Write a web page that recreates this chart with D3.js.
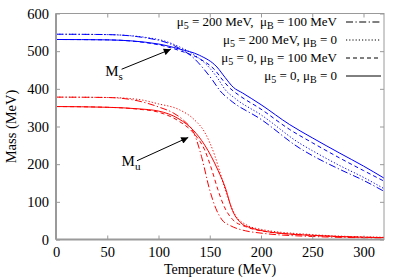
<html>
<head>
<script src="https://cdnjs.cloudflare.com/ajax/libs/d3/7.8.5/d3.min.js"></script>
<style>
  body { margin: 0; background: #fff; }
</style>
</head>
<body>
<script>
// temperature grid (MeV) and masses (MeV)
var xTicks = [0, 50, 100, 150, 200, 250, 300];
var yTicks = [0, 100, 200, 300, 400, 500, 600];

// strange quark mass
var msT_a = [0, 50, 100, 120, 140, 157, 165, 173, 182, 200, 228, 250, 277, 300, 320];
var ms_a  = [531, 530, 519, 506, 489, 458, 430, 404, 389, 358, 305, 270, 229, 195, 163]; // mu5=0, muB=0
var msT_b = [0, 50, 100, 120, 140, 155, 163, 170, 178, 200, 228, 250, 277, 300, 320];
var ms_b  = [531, 530, 517, 502, 480, 450, 422, 401, 384, 346, 292, 257, 216, 183, 155]; // mu5=0, muB=100
var msT_c = [0, 50, 100, 120, 135, 150, 158, 165, 175, 200, 238, 250, 277, 300, 320];
var ms_c  = [545, 544, 531, 512, 490, 455, 427, 398, 374, 331, 255, 236, 196, 165, 135]; // mu5=200, muB=0
var msT_d = [0, 50, 100, 120, 135, 145, 153, 160, 170, 200, 238, 250, 277, 300, 320];
var ms_d  = [545, 544, 529, 508, 480, 450, 422, 395, 370, 319, 242, 223, 186, 157, 128]; // mu5=200, muB=100

// light quark mass
var muT_a = [0, 50, 80, 100, 120, 134, 145, 158, 166, 171, 180, 190, 200, 225, 250, 300, 320];
var mu_a  = [353, 351, 347, 341, 320, 290, 251, 184, 131, 85, 45, 31, 24, 15, 11, 6, 5];
var muT_b = [0, 50, 80, 100, 120, 135, 145, 152, 158, 164, 172, 185, 200, 250, 320];
var mu_b  = [353, 351, 346, 338, 314, 280, 238, 185, 132, 88, 54, 34, 23, 11, 5];
var muT_c = [0, 50, 80, 100, 120, 135, 145, 155, 162, 168, 175, 185, 200, 250, 320];
var mu_c  = [378, 377, 372, 360, 345, 318, 285, 222, 160, 108, 64, 40, 27, 13, 6];
var muT_d = [0, 50, 80, 100, 115, 125, 135, 142, 150, 156, 162, 170, 185, 200, 250, 320];
var mu_d  = [378, 377, 368, 352, 335, 315, 280, 220, 131, 82, 52, 37, 23, 17, 8, 4];

var W = 400, H = 280;
var serif = "'Liberation Serif', 'Times New Roman', Times, serif";

var svg = d3.select("body").append("svg")
    .attr("width", W).attr("height", H)
    .attr("font-family", serif);

var x = d3.scaleLinear().domain([0, 320]).range([56, 384]);
var y = d3.scaleLinear().domain([0, 600]).range([239.5, 13.5]);

var styles = {
    a: null,
    b: "4,3",
    c: "1.2,2",
    d: "7,2.5,1.2,2.5"
};

function zip(ts, ms) {
    return ts.map(function(t, i) { return [t, ms[i]]; });
}

var line = d3.line()
    .x(function(d) { return x(d[0]); })
    .y(function(d) { return y(d[1]); })
    .curve(d3.curveMonotoneX);

var series = [
    {pts: zip(msT_a, ms_a), c: "#0000ff", s: "a"},
    {pts: zip(msT_b, ms_b), c: "#0000ff", s: "b"},
    {pts: zip(msT_c, ms_c), c: "#0000ff", s: "c"},
    {pts: zip(msT_d, ms_d), c: "#0000ff", s: "d"},
    {pts: zip(muT_a, mu_a), c: "#ff0000", s: "a"},
    {pts: zip(muT_b, mu_b), c: "#ff0000", s: "b"},
    {pts: zip(muT_c, mu_c), c: "#ff0000", s: "c"},
    {pts: zip(muT_d, mu_d), c: "#ff0000", s: "d"}
];

svg.selectAll("path.curve")
    .data(series)
    .enter()
    .append("path")
    .attr("class", "curve")
    .attr("d", function(d) { return line(d.pts); })
    .attr("fill", "none")
    .attr("stroke", function(d) { return d.c; })
    .attr("stroke-width", 1)
    .attr("stroke-dasharray", function(d) { return styles[d.s]; });

// frame
svg.append("rect")
    .attr("x", x(0)).attr("y", y(600))
    .attr("width", x(320) - x(0)).attr("height", y(0) - y(600))
    .attr("fill", "none").attr("stroke", "#9a9a9a").attr("stroke-width", 1);
svg.append("line").attr("x1", x(0)).attr("x2", x(0)).attr("y1", y(0)).attr("y2", y(600))
    .attr("stroke", "#9a9a9a").attr("stroke-width", 2);
svg.append("line").attr("x1", x(0)).attr("x2", x(320)).attr("y1", y(0)).attr("y2", y(0))
    .attr("stroke", "#9a9a9a").attr("stroke-width", 2);

// ticks, inward on all sides
var xAxis = d3.axisBottom(x).tickValues(xTicks).tickSizeInner(-4).tickSizeOuter(0).tickPadding(7);
var yAxis = d3.axisLeft(y).tickValues(yTicks).tickSizeInner(-4).tickSizeOuter(0).tickPadding(7);

var gx = svg.append("g").attr("transform", "translate(0," + y(0) + ")").call(xAxis);
var gy = svg.append("g").attr("transform", "translate(" + x(0) + ",0)").call(yAxis);
var gx2 = svg.append("g").attr("transform", "translate(0," + y(600) + ")")
    .call(d3.axisTop(x).tickValues(xTicks).tickSizeInner(-4).tickSizeOuter(0).tickFormat(""));
var gy2 = svg.append("g").attr("transform", "translate(" + x(320) + ",0)")
    .call(d3.axisRight(y).tickValues(yTicks).tickSizeInner(-4).tickSizeOuter(0).tickFormat(""));

[gx, gy, gx2, gy2].forEach(function(g) {
    g.attr("font-family", serif).attr("font-size", 14.5);
    g.select(".domain").remove();
    g.selectAll("line").attr("stroke", "#9a9a9a");
    g.selectAll("text").attr("fill", "#000");
});

// axis titles
svg.append("text")
    .attr("x", (x(0) + x(320)) / 2).attr("y", 274)
    .attr("text-anchor", "middle").attr("font-size", 14)
    .text("Temperature (MeV)");
svg.append("text")
    .attr("transform", "translate(16," + y(300) + ") rotate(-90)")
    .attr("text-anchor", "middle").attr("font-size", 14.5)
    .text("Mass (MeV)");

// legend
var legendRows = [
    {s: "d", parts: [["μ", ""], ["5", "sub"], [" = 200 MeV,\u00a0 μ", ""], ["B", "sub"], [" = 100 MeV", ""]]},
    {s: "c", parts: [["μ", ""], ["5", "sub"], [" = 200 MeV, μ", ""], ["B", "sub"], [" = 0", ""]]},
    {s: "b", parts: [["μ", ""], ["5", "sub"], [" = 0, μ", ""], ["B", "sub"], [" = 100 MeV", ""]]},
    {s: "a", parts: [["μ", ""], ["5", "sub"], [" = 0, μ", ""], ["B", "sub"], [" = 0", ""]]}
];
var legendY = [26, 44, 62, 80];

legendRows.forEach(function(r, i) {
    var t = svg.append("text")
        .attr("x", 337).attr("y", legendY[i])
        .attr("text-anchor", "end").attr("font-size", 13);
    var shifted = false;
    r.parts.forEach(function(p) {
        var ts = t.append("tspan").text(p[0]);
        if (p[1] === "sub") { ts.attr("dy", 3).attr("font-size", 10); shifted = true; }
        else if (shifted) { ts.attr("dy", -3); shifted = false; }
    });
    svg.append("line")
        .attr("x1", 346).attr("x2", 381)
        .attr("y1", legendY[i] - 4).attr("y2", legendY[i] - 4)
        .attr("stroke", "#000").attr("stroke-width", 1)
        .attr("stroke-dasharray", styles[r.s]);
});

// annotations
svg.append("defs").append("marker")
    .attr("id", "arr").attr("viewBox", "0 0 10 10")
    .attr("refX", 10).attr("refY", 5)
    .attr("markerWidth", 9).attr("markerHeight", 7)
    .attr("markerUnits", "userSpaceOnUse")
    .attr("orient", "auto")
    .append("path").attr("d", "M0,0 L10,5 L0,10 z").attr("fill", "#000");

var notes = [
    {name: "M", sub: "s", tx: 48, ty: 434, from: [64, 452], to: [112, 505]},
    {name: "M", sub: "u", tx: 64, ty: 194, from: [79, 209], to: [129, 271]}
];
notes.forEach(function(n) {
    var t = svg.append("text")
        .attr("x", x(n.tx)).attr("y", y(n.ty))
        .attr("font-size", 15);
    t.append("tspan").text(n.name);
    t.append("tspan").text(n.sub).attr("dy", 4).attr("font-size", 11);
    svg.append("line")
        .attr("x1", x(n.from[0])).attr("y1", y(n.from[1]))
        .attr("x2", x(n.to[0])).attr("y2", y(n.to[1]))
        .attr("stroke", "#000").attr("stroke-width", 1)
        .attr("marker-end", "url(#arr)");
});
</script>
</body>
</html>
